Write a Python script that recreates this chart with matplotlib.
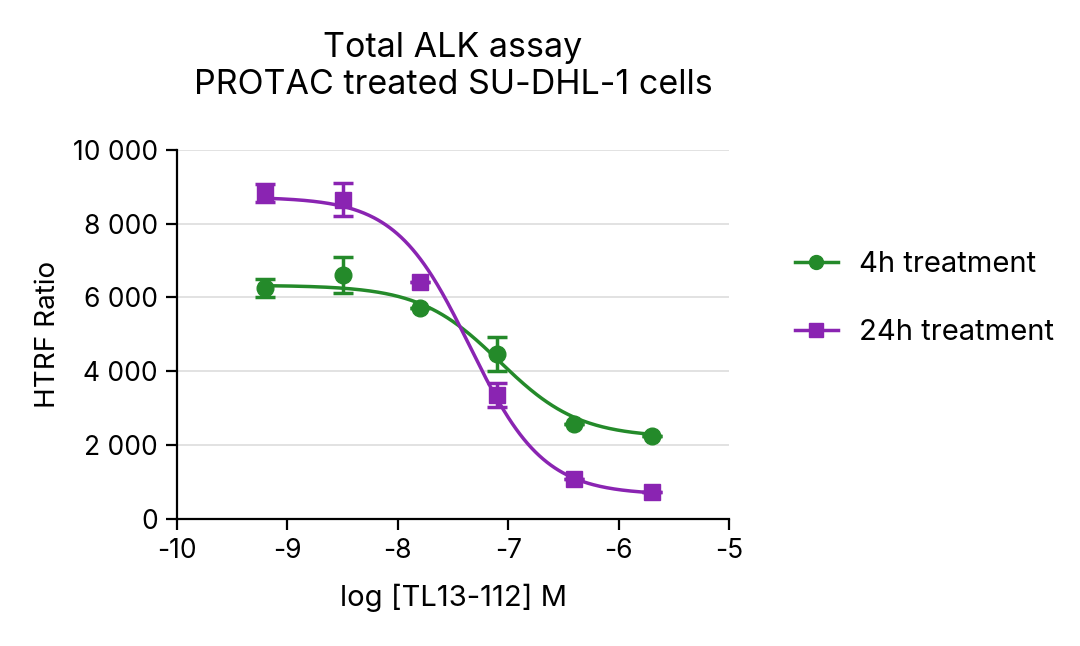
import numpy as np
import matplotlib.pyplot as plt

plt.rcParams['font.family'] = ['Inter', 'DejaVu Sans']
plt.rcParams['axes.unicode_minus'] = False

log_conc = [-9.2, -8.5, -7.8, -7.1, -6.4, -5.7]

ratio_4h = [6250, 6610, 5720, 4470, 2575, 2250]
err_4h = [250, 480, 0, 460, 0, 0]
ratio_24h = [8835, 8645, 6420, 3360, 1085, 730]
err_24h = [250, 450, 0, 330, 0, 0]

# 4-parameter logistic fit parameters (top, bottom, logIC50, hill)
fit_4h = (6330, 2200, -7.08, 1.2)
fit_24h = (8720, 650, -7.35, 1.3)

green = '#248a2a'
purple = '#8a24b2'


def four_pl(x, top, bottom, logic50, hill):
    return bottom + (top - bottom) / (1 + 10 ** (hill * (x - logic50)))


fig = plt.figure(figsize=(10.8, 6.46), dpi=100)
ax = fig.add_axes([0.164, 0.197, 0.511, 0.571])

xs = np.linspace(min(log_conc), max(log_conc), 300)
for y, e, p, c, m, lab in [(ratio_4h, err_4h, fit_4h, green, 'o', '4h treatment'),
                           (ratio_24h, err_24h, fit_24h, purple, 's', '24h treatment')]:
    ax.plot(xs, four_pl(xs, *p), color=c, lw=2.5, zorder=3)
    ax.errorbar(log_conc, y, yerr=e, fmt=m, color=c, ms=12 if m == 'o' else 11,
                capsize=7, elinewidth=2.5, capthick=2.5, zorder=4)
    ax.plot([], [], color=c, marker=m, ms=10, lw=2.5, label=lab)

ax.set_xlim(-10, -5)
ax.set_ylim(0, 10000)
ax.set_yticks(range(0, 10001, 2000))
ax.set_yticklabels(['0', '2 000', '4 000', '6 000', '8 000', '10 000'])
ax.set_xticks(range(-10, -4))
ax.yaxis.grid(True, color='#dddddd', lw=1.2)
ax.set_axisbelow(True)
for s in ['top', 'right']:
    ax.spines[s].set_visible(False)
for s in ['left', 'bottom']:
    ax.spines[s].set_linewidth(1.6)
ax.tick_params(labelsize=19, width=1.6, length=8, pad=6)

ax.set_xlabel('log [TL13-112] M', fontsize=21, labelpad=14)
ax.set_ylabel('HTRF Ratio', fontsize=20, labelpad=8)
ax.set_title('Total ALK assay\nPROTAC treated SU-DHL-1 cells', fontsize=24.5,
             pad=40, linespacing=1.2)

fig.legend(loc='center left', bbox_to_anchor=(0.712, 0.538), frameon=False,
           fontsize=21, handlelength=1.45, labelspacing=1.4, handletextpad=0.75)

fig.savefig('out.png', dpi=100)
